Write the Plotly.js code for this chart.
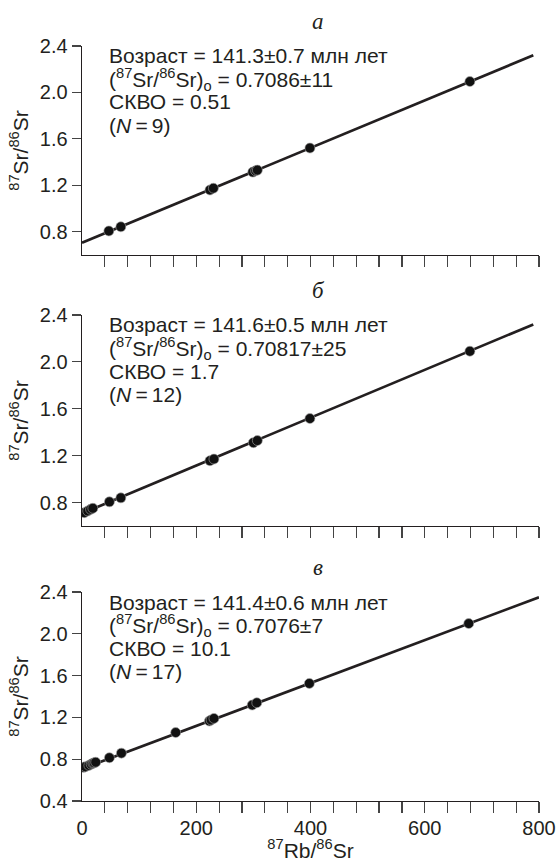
<!DOCTYPE html>
<html>
<head>
<meta charset="utf-8">
<script src="https://cdn.plot.ly/plotly-3.0.1.min.js"></script>
<style>html,body{margin:0;padding:0;background:#fff;}#chart{width:560px;height:862px;}</style>
</head>
<body>
<div id="chart"></div>
<script>
// ---- data ----
const panelLetters = ['а', 'б', 'в'];

const xA = [47, 68, 224, 230, 299, 304, 307, 399, 679];
const yA = [0.807, 0.843, 1.160, 1.175, 1.314, 1.325, 1.331, 1.521, 2.094];
const lineAX = [0, 790];
const lineAY = [0.705, 2.320];
const textA = ['Возраст = 141.3±0.7 млн лет', '(<sup>87</sup>Sr/<sup>86</sup>Sr)<sub>o</sub> = 0.7086±11', 'СКВО = 0.51', '(<i>N</i>\u2009=\u20099)'];

const xB = [4, 10, 15, 19, 48, 68, 224, 231, 300, 307, 399, 679];
const yB = [0.714, 0.728, 0.742, 0.751, 0.806, 0.840, 1.157, 1.171, 1.311, 1.329, 1.517, 2.091];
const lineBX = [0, 790];
const lineBY = [0.707, 2.320];
const textB = ['Возраст = 141.6±0.5 млн лет', '(<sup>87</sup>Sr/<sup>86</sup>Sr)<sub>o</sub> = 0.70817±25', 'СКВО = 1.7', '(<i>N</i>\u2009=\u200912)'];

const xC = [3, 6, 12, 16, 19, 21, 24, 48, 69, 164, 223, 226, 231, 298, 306, 398, 677];
const yC = [0.722, 0.728, 0.740, 0.752, 0.760, 0.765, 0.771, 0.814, 0.858, 1.055, 1.165, 1.175, 1.190, 1.318, 1.340, 1.525, 2.098];
const lineCX = [0, 800];
const lineCY = [0.708, 2.350];
const textC = ['Возраст = 141.4±0.6 млн лет', '(<sup>87</sup>Sr/<sup>86</sup>Sr)<sub>o</sub> = 0.7076±7', 'СКВО = 10.1', '(<i>N</i>\u2009=\u200917)'];

const minorTicksX = [40, 80, 120, 160, 200, 240, 280, 320, 360, 400, 440, 480, 520, 560, 600, 640, 680, 720, 760, 800];
const labelTicksX = [0, 200, 400, 600, 800];
const ticksYTop = [0.8, 1.2, 1.6, 2.0, 2.4];
const ticksYBottom = [0.4, 0.8, 1.2, 1.6, 2.0, 2.4];

// ---- styling ----
const INK = '#231f20';
const FONT = 'Liberation Sans, Arial, sans-serif';
const W = 560, H = 862;
const M = {l: 82, r: 21, t: 46, b: 61};
const plotH = H - M.t - M.b;
const py = (ypx) => (H - M.b - ypx) / plotH;

const panels = [
  {x: xA, y: yA, lx: lineAX, ly: lineAY, txt: textA, top: 46, bot: 255},
  {x: xB, y: yB, lx: lineBX, ly: lineBY, txt: textB, top: 315, bot: 526},
  {x: xC, y: yC, lx: lineCX, ly: lineCY, txt: textC, top: 592, bot: 801}
];

const traces = [];
const layout = {
  width: W, height: H,
  margin: M,
  paper_bgcolor: '#fff', plot_bgcolor: '#fff',
  showlegend: false,
  font: {family: FONT, size: 20, color: INK},
  annotations: []
};

panels.forEach((p, i) => {
  const n = i + 1;
  const xs = n === 1 ? 'x' : 'x' + n;
  const ys = n === 1 ? 'y' : 'y' + n;
  traces.push({x: p.lx, y: p.ly, xaxis: xs, yaxis: ys, type: 'scatter', mode: 'lines',
    line: {color: INK, width: 2.7}, hoverinfo: 'skip'});
  traces.push({x: p.x, y: p.y, xaxis: xs, yaxis: ys, type: 'scatter', mode: 'markers',
    marker: {color: '#111', size: 10, line: {color: '#aaa', width: 0.6}}, hoverinfo: 'skip'});

  const dom = [py(p.bot), py(p.top)];
  layout['xaxis' + (n === 1 ? '' : n)] = {
    domain: [0, 1], anchor: ys, range: [0, 800],
    showline: true, linecolor: INK, linewidth: 1.4,
    tickmode: 'array', tickvals: minorTicksX, ticks: 'outside', ticklen: 11, tickwidth: 1.2, tickcolor: '#444',
    showticklabels: false, showgrid: false, zeroline: false
  };
  layout['yaxis' + (n === 1 ? '' : n)] = {
    domain: dom, anchor: xs, range: n === 3 ? [0.4, 2.4] : [0.6, 2.4],
    showline: true, linecolor: INK, linewidth: 1.4,
    tickmode: 'array', tickvals: n === 3 ? ticksYBottom : ticksYTop,
    tickformat: '.1f', ticks: 'outside', ticklen: 9, tickwidth: 1.2, tickcolor: '#444',
    tickfont: {family: FONT, size: 20, color: INK},
    showgrid: false, zeroline: false,
    title: {text: '<sup>87</sup>Sr/<sup>86</sup>Sr', font: {family: FONT, size: 21, color: INK}, standoff: 5}
  };

  // panel letter
  layout.annotations.push({xref: 'paper', yref: 'paper', x: (318 - M.l) / (W - M.l - M.r), y: py(p.top - 25),
    xanchor: 'center', yanchor: 'middle', showarrow: false, text: panelLetters[i],
    font: {family: 'Liberation Serif, Times New Roman, serif', size: 23, color: INK, style: 'italic'}});

  // stats text, one line each
  const offs = [10, 33, 56, 79];
  p.txt.forEach((t, k) => {
    layout.annotations.push({xref: 'paper', yref: 'paper', x: (108 - M.l) / (W - M.l - M.r), y: py(p.top + offs[k]),
      xanchor: 'left', yanchor: 'middle', showarrow: false, text: t, align: 'left', borderpad: 0,
      font: {family: FONT, size: 21, color: INK}});
  });
});

// label axis for bottom panel
traces.push({x: [], y: [], xaxis: 'x4', yaxis: 'y3', type: 'scatter', mode: 'markers', hoverinfo: 'skip'});
layout.xaxis4 = {
  overlaying: 'x3', anchor: 'y3', side: 'bottom', range: [0, 800],
  showline: false, showgrid: false, zeroline: false,
  tickmode: 'array', tickvals: labelTicksX, ticks: 'outside', ticklen: 9, tickcolor: 'rgba(0,0,0,0)',
  tickfont: {family: FONT, size: 20, color: INK},
  title: {text: '<sup>87</sup>Rb/<sup>86</sup>Sr', font: {family: FONT, size: 21, color: INK}, standoff: 12}
};

Plotly.newPlot('chart', traces, layout, {staticPlot: true, displayModeBar: false});
</script>
</body>
</html>
